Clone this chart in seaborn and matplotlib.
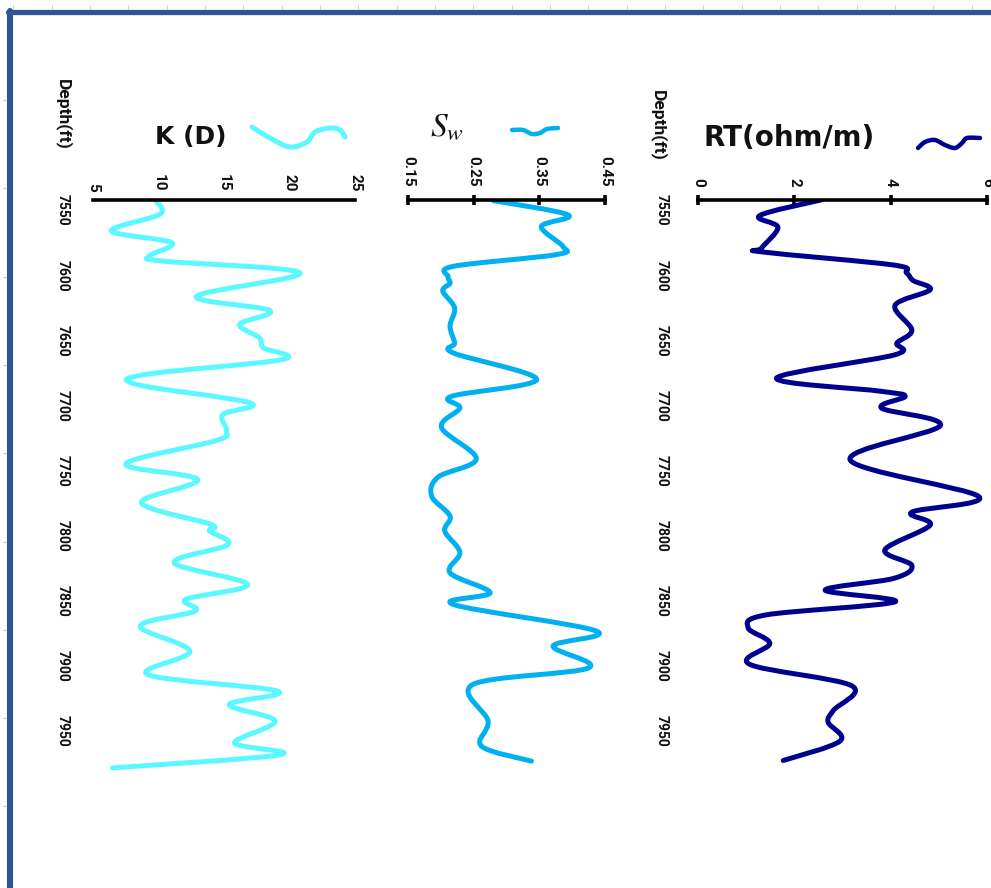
import matplotlib
matplotlib.use("Agg")
import matplotlib.pyplot as plt
from matplotlib.lines import Line2D
from matplotlib.path import Path
from matplotlib.patches import PathPatch
import numpy as np
import pandas as pd
import seaborn as sns

# ---- well-log readings -------------------------------------------------
rt_depth = [7550, 7562, 7571, 7587, 7590, 7600, 7606, 7612, 7619, 7631, 7650,
            7660, 7669, 7687, 7697, 7701, 7710, 7723.5, 7750, 7778, 7790, 7800,
            7819, 7831, 7841, 7850, 7859, 7869, 7879, 7891, 7907, 7923.5,
            7942.5, 7951.5, 7966, 7981]
rt_values = [2.55, 1.28, 1.66, 1.32, 1.35, 4.06, 4.33, 4.47, 4.82, 4.09, 4.44,
             4.13, 4.09, 1.63, 3.78, 4.30, 3.81, 5.03, 3.16, 5.83, 4.44, 4.82,
             3.88, 4.44, 4.06, 2.64, 4.09, 1.42, 1.04, 1.49, 1.07, 3.19,
             2.81, 2.70, 2.95, 1.77]

sw_depth = [7550.5, 7561.5, 7570.4, 7585.8, 7592, 7601, 7609, 7614, 7620, 7633,
            7647, 7660, 7667.6, 7688, 7701, 7710, 7725, 7749, 7763, 7777.7,
            7793, 7804.6, 7821, 7836.7, 7852, 7861, 7881.5, 7893, 7909.8,
            7922.5, 7950.8, 7970, 7981.5]
sw_values = [0.280, 0.394, 0.353, 0.386, 0.376, 0.219, 0.211, 0.214, 0.203,
             0.221, 0.214, 0.221, 0.219, 0.346, 0.216, 0.229, 0.201, 0.254,
             0.196, 0.186, 0.214, 0.206, 0.229, 0.214, 0.275, 0.219, 0.437,
             0.371, 0.425, 0.249, 0.272, 0.262, 0.338]

k_depth = [7551, 7561, 7573.8, 7582.8, 7593, 7597, 7606, 7624, 7635, 7645.6,
           7656, 7663.6, 7672.6, 7684, 7692, 7706, 7715, 7727.7, 7735, 7753,
           7765, 7782.8, 7799.5, 7804.6, 7815, 7829, 7845.6, 7857, 7866,
           7877.7, 7897, 7915, 7927.7, 7938, 7950.8, 7967.5, 7976.5, 7986.7]
k_values = [9.84, 10.1, 6.4, 11.0, 9.3, 10.35, 20.8, 12.9, 18.5, 16.2, 17.7,
            18.0, 19.5, 9.1, 8.4, 17.0, 14.9, 15.2, 14.4, 7.5, 13.0, 8.7, 14.0,
            13.9, 15.3, 11.2, 16.8, 12.1, 12.8, 8.6, 12.4, 9.2, 19.1, 15.4,
            18.9, 15.8, 19.3, 6.5]

depth_ticks = [7550, 7600, 7650, 7700, 7750, 7800, 7850, 7900, 7950]
rt_ticks = [0, 2, 4, 6]
sw_ticks = [0.15, 0.25, 0.35, 0.45]
k_ticks = [5, 10, 15, 20, 25]

RT_COLOR = "#00008F"
SW_COLOR = "#00B0F0"
K_COLOR = "#5CF8FF"
FRAME_BLUE = "#2F5597"
TEXT = "#111111"

sns.set_style("white")
plt.rcParams["font.family"] = ["Roboto", "DejaVu Sans"]

W, H = 991, 888
fig = plt.figure(figsize=(W / 100, H / 100), dpi=100)


def fx(x):
    return x / W


def fy(y):
    return 1 - y / H


def smooth_path(pts):
    """Cubic Bezier path through the vertices (spreadsheet-style smoothed line)."""
    pts = np.asarray(pts, dtype=float)
    n = len(pts)
    verts = [pts[0]]
    codes = [Path.MOVETO]
    for i in range(n - 1):
        p0 = pts[i - 1] if i > 0 else pts[i]
        p1, p2 = pts[i], pts[i + 1]
        p3 = pts[i + 2] if i + 2 < n else pts[i + 1]
        verts += [p1 + (p2 - p0) / 6.0, p2 - (p3 - p1) / 6.0, p2]
        codes += [Path.CURVE4] * 3
    return Path(verts, codes)


def track(left, right, top=200, bottom=780):
    return fig.add_axes([fx(left), fy(bottom), (right - left) / W, (bottom - top) / H])


ax_rt = track(698, 987)
ax_sw = track(408, 605)
ax_k = track(93, 355)

tracks = [
    (ax_rt, rt_depth, rt_values, RT_COLOR, (0, 6), rt_ticks, [str(t) for t in rt_ticks], True, 21),
    (ax_sw, sw_depth, sw_values, SW_COLOR, (0.15, 0.45), sw_ticks, ["%.2f" % t for t in sw_ticks], True, None),
    (ax_k, k_depth, k_values, K_COLOR, (5, 25), k_ticks, [str(t) for t in k_ticks], False, 17),
]

for ax, depth, vals, color, xlim, xt, xtl, show_ticks, depth_pad in tracks:
    df = pd.DataFrame({"depth": depth, "value": vals})
    sns.lineplot(data=df, x="value", y="depth", orient="y", sort=False,
                 estimator=None, color=color, lw=3.6, ax=ax)
    # render the seaborn line as a smoothed curve through the same vertices
    line = ax.lines[-1]
    ax.add_patch(PathPatch(smooth_path(line.get_xydata()), fill=False,
                           edgecolor=color, lw=3.6, joinstyle="round",
                           capstyle="round", transform=ax.transData))
    line.set_visible(False)

    ax.set_xlim(*xlim)
    ax.set_ylim(7996, 7550)
    ax.set_xlabel("")
    ax.set_ylabel("")
    ax.patch.set_alpha(0)
    for side in ("left", "right", "bottom"):
        ax.spines[side].set_visible(False)
    ax.spines["top"].set_linewidth(2.6)
    ax.spines["top"].set_color("black")
    ax.xaxis.tick_top()
    ax.set_xticks(xt)
    ax.set_xticklabels(xtl, fontweight="bold", color=TEXT)
    ax.tick_params(axis="x", which="major", direction="inout",
                   length=7 if show_ticks else 0, width=2.6, color="black",
                   labelrotation=-90, labelsize=11, pad=6)
    ax.set_yticks(depth_ticks)
    if depth_pad is not None:
        ax.set_yticklabels([str(d) for d in depth_ticks], fontweight="bold",
                           color=TEXT)
        ax.tick_params(axis="y", length=0, labelrotation=-90, labelsize=10,
                       pad=depth_pad)
    else:
        ax.set_yticklabels([])
        ax.tick_params(axis="y", length=0)

# track headings
fig.text(fx(704), fy(138), "RT(ohm/m)", ha="left", va="center",
         fontsize=20, fontweight="bold", family="DejaVu Sans", color=TEXT)
fig.text(fx(430), fy(126), r"$S_w$", ha="left", va="center",
         fontsize=24, math_fontfamily="stix", color=TEXT)
fig.text(fx(155), fy(137), "K (D)", ha="left", va="center",
         fontsize=18, fontweight="bold", family="DejaVu Sans", color=TEXT)
fig.text(fx(658), fy(125), "Depth(ft)", ha="center", va="center",
         rotation=-90, fontsize=12.5, fontweight="bold", color=TEXT)
fig.text(fx(63), fy(114), "Depth(ft)", ha="center", va="center",
         rotation=-90, fontsize=12.5, fontweight="bold", color=TEXT)

# legend keys beside the headings
key_rt = [(918, 148), (925, 142), (935, 140), (945, 145), (955, 148),
          (962, 143), (967, 138), (980, 138)]
key_sw = [(512, 130), (523, 130), (532, 134), (540, 133), (547, 129), (558, 128)]
key_k = [(252, 127), (270, 138), (290, 147), (307, 142), (315, 132),
         (330, 128), (340, 130), (345, 137)]
for pts, color, lw in ((key_rt, RT_COLOR, 3.2), (key_sw, SW_COLOR, 3.2), (key_k, K_COLOR, 3.6)):
    fig.add_artist(PathPatch(smooth_path([(fx(p[0]), fy(p[1])) for p in pts]),
                             fill=False, edgecolor=color, lw=lw,
                             capstyle="round", joinstyle="round",
                             transform=fig.transFigure))

# page frame and ruler marks
fig.add_artist(Line2D([fx(8), fx(W)], [fy(12.5), fy(12.5)], color=FRAME_BLUE,
                      lw=3.8, transform=fig.transFigure))
fig.add_artist(Line2D([fx(10), fx(10)], [fy(11), fy(H)], color=FRAME_BLUE,
                      lw=4.4, transform=fig.transFigure))
for i in range(26):
    x = 13.3 + 38.33 * i
    fig.add_artist(Line2D([fx(x), fx(x)], [fy(5), fy(9)], color="#d0d0d0",
                          lw=0.8, transform=fig.transFigure))
for i in range(10):
    y = 100 + 88.3 * i
    fig.add_artist(Line2D([fx(3), fx(6)], [fy(y), fy(y)], color="#d0d0d0",
                          lw=0.8, transform=fig.transFigure))

fig.savefig("out.png", dpi=100, facecolor="white")
